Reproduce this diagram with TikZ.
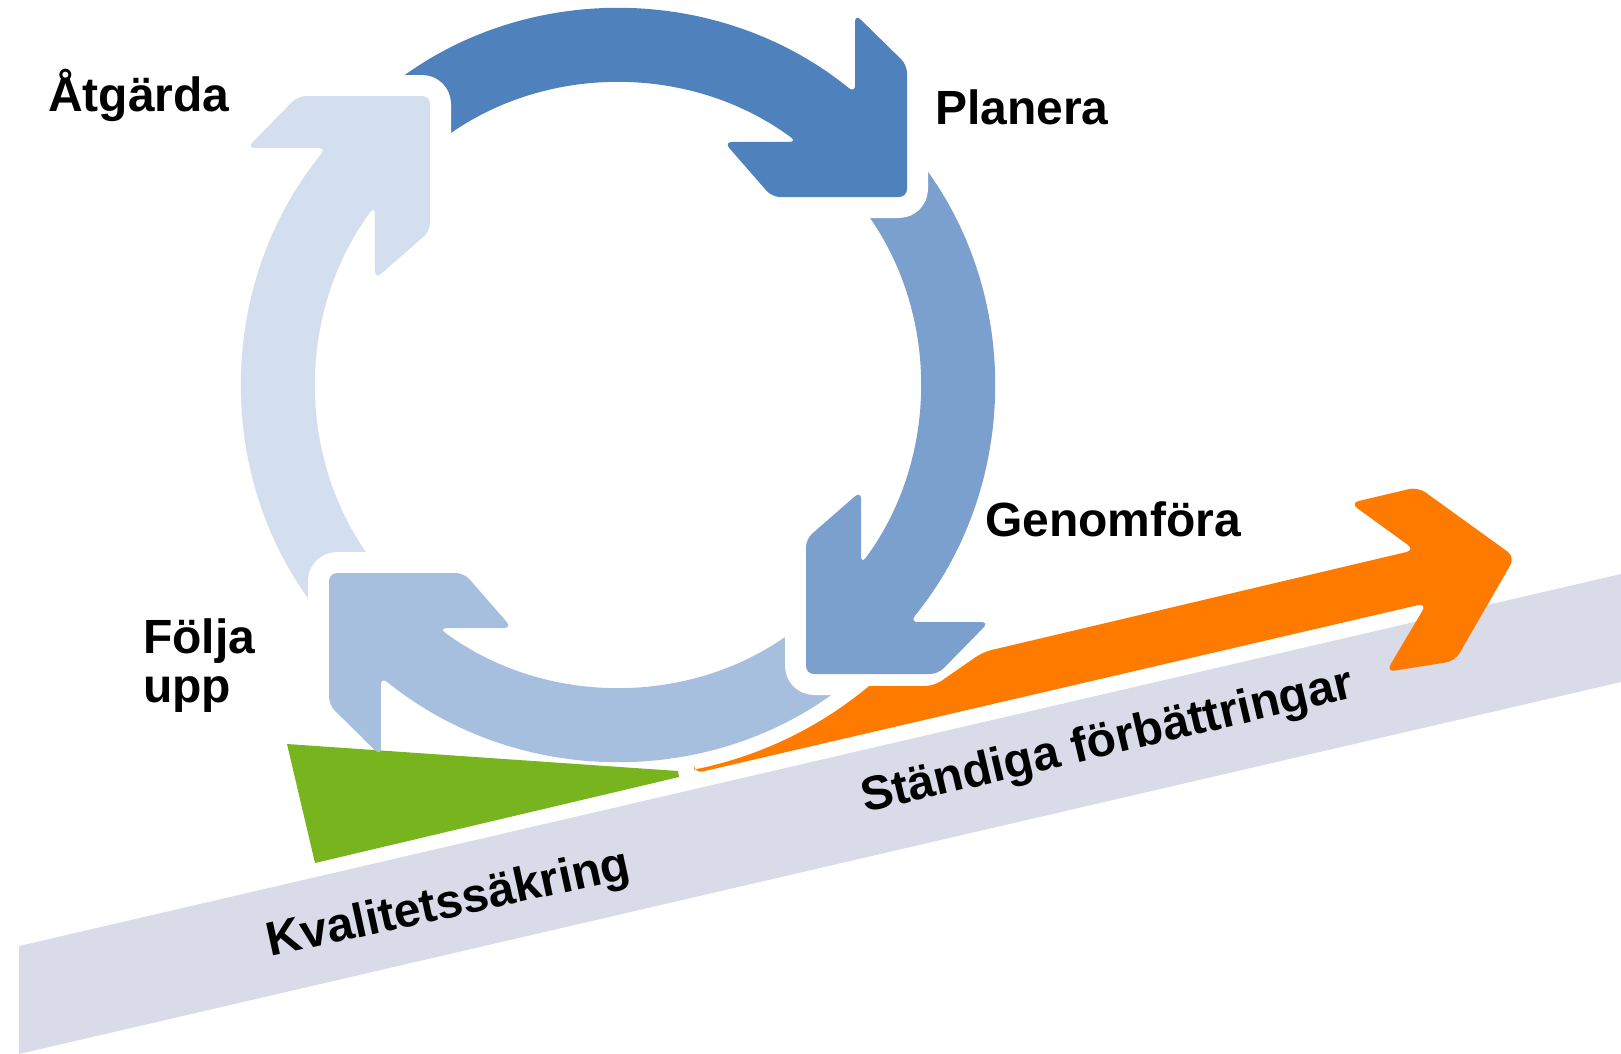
\documentclass[tikz,border=0pt]{standalone}
\usepackage{fontspec}
\setmainfont{Liberation Sans}
\definecolor{topblue}{HTML}{4F81BD}
\definecolor{rightblue}{HTML}{7CA0CD}
\definecolor{bottomblue}{HTML}{A7BFDE}
\definecolor{leftblue}{HTML}{D3DFEE}
\definecolor{orangearrow}{HTML}{FF7B00}
\definecolor{greentri}{HTML}{78B41E}
\definecolor{bandgray}{HTML}{D9DCE8}
\newcommand\ringpath{(127:376) arc[start angle=127,end angle=50.9,radius=376] -- (237,371) -- (289,320) -- (289,188) -- (154,188) -- (106,243) -- (53.6:302) arc[start angle=53.6,end angle=127,radius=302] -- cycle}
\tikzset{
  halo/.style={draw=white, line width=42pt, line join=round, rounded corners=8pt},
  ringfill/.style={fill=#1, rounded corners=8pt},
  lbl/.style={font=\fontsize{48}{49}\selectfont\bfseries, inner sep=0pt, text=black},
}
\begin{document}
\begin{tikzpicture}[x=1pt,y=1pt]
\useasboundingbox (0,0) rectangle (1621,-1053);
\clip (0,0) rectangle (1621,-1053);
% grey band
\fill[bandgray] (19,-946) -- (1621,-574) -- (1621,-682) -- (19,-1054) -- cycle;
% ring of four arrows
\begin{scope}[shift={(618,-385)}]
  \foreach \ang/\col in {-90/rightblue, 0/topblue, 90/leftblue, 180/bottomblue}{
    \begin{scope}[rotate=\ang]
      \path[halo] \ringpath;
      \fill[ringfill=\col] \ringpath;
    \end{scope}
  }
  \begin{scope}
    \clip (-618,-35) rectangle (1003,-668);
    \begin{scope}[rotate=-90]
      \path[halo] \ringpath;
      \fill[ringfill=rightblue] \ringpath;
    \end{scope}
  \end{scope}
\end{scope}
% orange arrow
\fill[orangearrow] (694,-773.5) -- (694,-769.6) arc[start angle=-78.8,end angle=-50.2,radius=392]
  [rounded corners=9pt] -- (934,-686) -- (983,-652) -- (1415,-550) -- (1350,-503) -- (1418,-487)
  -- (1515,-557) -- (1455,-661) -- (1386,-672) -- (1427,-603) -- cycle;
% green triangle
\fill[greentri] (287,-744) -- (315,-863) -- (679,-777) -- (678,-771) -- cycle;
% bottom arrow barb over the green triangle
\begin{scope}
  \clip (345,-738) rectangle (420,-775);
  \begin{scope}[shift={(618,-385)}, rotate=180]
    \fill[ringfill=bottomblue] \ringpath;
  \end{scope}
\end{scope}
% labels
\node[lbl, anchor=base west] (atgarda) at (48,-111) {Åtgärda};
\node[lbl, anchor=base west] (planera) at (935,-124) {Planera};
\node[lbl, anchor=base west] (genomfora) at (985,-536) {Genomföra};
\node[lbl, anchor=base west] (folja) at (143,-653) {\begin{tabular}[t]{@{}l@{}}Följa\\upp\end{tabular}};
\node[lbl, anchor=base west, rotate=12.3] (kval) at (270,-957) {Kvalitetssäkring};
\node[lbl, anchor=base west, rotate=13.3] (standiga) at (865,-813) {Ständiga förbättringar};
\end{tikzpicture}
\end{document}
